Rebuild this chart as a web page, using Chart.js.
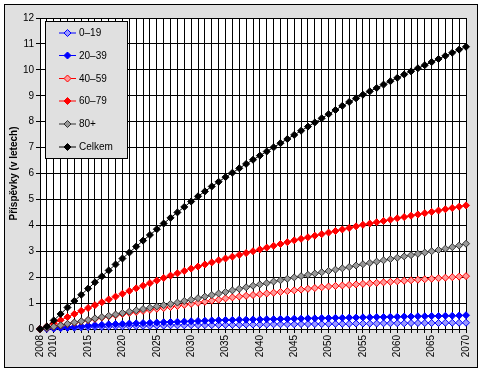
<!DOCTYPE html>
<html>
<head>
<meta charset="utf-8">
<script src="https://cdn.jsdelivr.net/npm/chart.js@4/dist/chart.umd.min.js"></script>
<style>
  html, body { margin: 0; padding: 0; background: #fff; }
  #wrap { width: 483px; height: 372px; }
</style>
</head>
<body>
<div id="wrap"><canvas id="chart" width="483" height="372"></canvas></div>
<script>
years = [
    '2008', '2009', '2010', '2011', '2012', '2013', '2014', '2015', '2016', '2017',
    '2018', '2019', '2020', '2021', '2022', '2023', '2024', '2025', '2026', '2027',
    '2028', '2029', '2030', '2031', '2032', '2033', '2034', '2035', '2036', '2037',
    '2038', '2039', '2040', '2041', '2042', '2043', '2044', '2045', '2046', '2047',
    '2048', '2049', '2050', '2051', '2052', '2053', '2054', '2055', '2056', '2057',
    '2058', '2059', '2060', '2061', '2062', '2063', '2064', '2065', '2066', '2067',
    '2068', '2069', '2070',
];
xTickLabels = ['2008', '2010', '2015', '2020', '2025', '2030', '2035', '2040',
    '2045', '2050', '2055', '2060', '2065', '2070'];
yTicks = [0, 1, 2, 3, 4, 5, 6, 7, 8, 9, 10, 11, 12];

seriesNames = ['0–19', '20–39', '40–59', '60–79', '80+', 'Celkem'];

age0_19 = [
    0, 0.01, 0.02, 0.03, 0.04, 0.05, 0.06, 0.07, 0.08, 0.08,
    0.09, 0.1, 0.1, 0.11, 0.11, 0.12, 0.12, 0.13, 0.13, 0.14,
    0.14, 0.14, 0.15, 0.15, 0.15, 0.15, 0.16, 0.16, 0.16, 0.16,
    0.17, 0.17, 0.17, 0.17, 0.18, 0.18, 0.18, 0.18, 0.19, 0.19,
    0.19, 0.19, 0.2, 0.2, 0.2, 0.2, 0.21, 0.21, 0.21, 0.21,
    0.22, 0.22, 0.22, 0.22, 0.23, 0.23, 0.23, 0.23, 0.23, 0.24,
    0.24, 0.24, 0.24,
];
age20_39 = [
    0, 0.01, 0.03, 0.05, 0.07, 0.09, 0.11, 0.13, 0.15, 0.16,
    0.18, 0.19, 0.2, 0.21, 0.22, 0.23, 0.24, 0.25, 0.26, 0.27,
    0.28, 0.29, 0.3, 0.31, 0.32, 0.33, 0.34, 0.35, 0.35, 0.36,
    0.36, 0.37, 0.37, 0.38, 0.38, 0.39, 0.39, 0.40, 0.40, 0.41,
    0.41, 0.42, 0.42, 0.43, 0.43, 0.44, 0.44, 0.45, 0.45, 0.46,
    0.46, 0.47, 0.47, 0.48, 0.48, 0.49, 0.49, 0.50, 0.50, 0.51,
    0.51, 0.52, 0.53,
];
age40_59 = [
    0, 0.04, 0.09, 0.14, 0.19, 0.24, 0.29, 0.34, 0.39, 0.44,
    0.49, 0.53, 0.58, 0.62, 0.66, 0.7, 0.74, 0.78, 0.81, 0.85,
    0.89, 0.93, 0.97, 1.01, 1.05, 1.09, 1.13, 1.18, 1.22, 1.25,
    1.28, 1.31, 1.34, 1.37, 1.40, 1.43, 1.46, 1.49, 1.52, 1.55,
    1.58, 1.61, 1.64, 1.66, 1.68, 1.70, 1.72, 1.74, 1.76, 1.78,
    1.80, 1.82, 1.84, 1.86, 1.88, 1.90, 1.92, 1.94, 1.96, 1.98,
    2.0, 2.02, 2.04,
];
age60_79 = [
    0, 0.1, 0.22, 0.34, 0.46, 0.58, 0.7, 0.81, 0.92, 1.03,
    1.14, 1.25, 1.36, 1.47, 1.57, 1.67, 1.77, 1.87, 1.97, 2.06,
    2.15, 2.24, 2.33, 2.41, 2.49, 2.57, 2.65, 2.72, 2.79, 2.86,
    2.93, 3.0, 3.07, 3.14, 3.21, 3.28, 3.35, 3.42, 3.48, 3.54,
    3.60, 3.66, 3.72, 3.78, 3.84, 3.90, 3.96, 4.02, 4.07, 4.12,
    4.17, 4.22, 4.27, 4.32, 4.37, 4.42, 4.47, 4.52, 4.57, 4.62,
    4.67, 4.72, 4.77,
];
age80plus = [
    0, 0.04, 0.09, 0.14, 0.2, 0.25, 0.3, 0.35, 0.41, 0.46,
    0.51, 0.56, 0.62, 0.67, 0.72, 0.77, 0.82, 0.87, 0.92, 0.97,
    1.02, 1.08, 1.13, 1.19, 1.25, 1.31, 1.37, 1.43, 1.49, 1.55,
    1.61, 1.67, 1.72, 1.77, 1.83, 1.88, 1.94, 1.99, 2.04, 2.09,
    2.14, 2.19, 2.24, 2.29, 2.34, 2.39, 2.45, 2.5, 2.55, 2.6,
    2.65, 2.7, 2.75, 2.8, 2.85, 2.9, 2.95, 3.0, 3.05, 3.1,
    3.16, 3.22, 3.29,
];
celkem = [
    0, 0.1, 0.33, 0.58, 0.83, 1.08, 1.32, 1.56, 1.80, 2.03,
    2.26, 2.49, 2.72, 2.95, 3.18, 3.41, 3.63, 3.85, 4.07, 4.29,
    4.50, 4.71, 4.92, 5.12, 5.31, 5.50, 5.68, 5.86, 6.03, 6.20,
    6.37, 6.53, 6.69, 6.85, 7.01, 7.17, 7.33, 7.49, 7.65, 7.81,
    7.97, 8.13, 8.29, 8.45, 8.61, 8.76, 8.90, 9.04, 9.17, 9.30,
    9.43, 9.56, 9.69, 9.82, 9.94, 10.06, 10.18, 10.30, 10.42, 10.54,
    10.66, 10.78, 10.89,
];

seriesData = [age0_19, age20_39, age40_59, age60_79, age80plus, celkem];
lineColors = ['#0000ff', '#0000ff', '#ff0000', '#ff0000', '#333333', '#000000'];
fillColors = ['#9999ff', '#0000ff', '#ff9999', '#ff0000', '#999999', '#000000'];

fontFamily = '"Liberation Sans", Arial, sans-serif';

// frame + white plot area
const backgroundPlugin = {
    id: 'background',
    beforeDraw(chart) {
        const c = chart.ctx;
        const a = chart.chartArea;
        c.save();
        c.fillStyle = '#ffffff';
        c.fillRect(0, 0, chart.width, chart.height);
        c.fillStyle = '#e0e0e0';
        c.fillRect(4.5, 4.5, 473, 363);
        c.strokeStyle = '#000000';
        c.lineWidth = 1;
        c.strokeRect(4.5, 4.5, 473, 363);
        c.fillStyle = '#ffffff';
        c.fillRect(a.left, a.top, a.right - a.left, a.bottom - a.top);
        c.restore();
    },
};

// legend box inside plot, top left
const boxLegendPlugin = {
    id: 'boxLegend',
    afterDatasetsDraw(chart) {
        const c = chart.ctx;
        const x0 = 45.5, y0 = 21.5, w = 82, h = 137;
        const rows = [33, 55.5, 78.5, 101, 124, 147];
        c.save();
        c.fillStyle = '#e0e0e0';
        c.fillRect(x0, y0, w, h);
        c.strokeStyle = '#000000';
        c.lineWidth = 1;
        c.strokeRect(x0, y0, w, h);
        chart.data.datasets.forEach((ds, i) => {
            const y = rows[i];
            c.strokeStyle = ds.borderColor;
            c.beginPath();
            c.moveTo(59, y);
            c.lineTo(76, y);
            c.stroke();
            c.fillStyle = ds.pointBackgroundColor;
            c.strokeStyle = ds.pointBorderColor;
            Chart.helpers.drawPoint(c, { pointStyle: 'rectRot', radius: 3.5, borderWidth: 1 }, 67.5, y);
            c.fillStyle = '#000000';
            c.font = '10px ' + fontFamily;
            c.textBaseline = 'middle';
            c.textAlign = 'left';
            c.fillText(ds.label, 79, y + 0.5);
        });
        c.restore();
    },
};

var ctx = document.getElementById('chart').getContext('2d');

new Chart(ctx, {
    type: 'line',
    data: {
        labels: years,
        datasets: seriesData.map((values, i) => ({
            label: seriesNames[i],
            data: values,
            borderColor: lineColors[i],
            borderWidth: 1,
            backgroundColor: fillColors[i],
            pointBackgroundColor: fillColors[i],
            pointBorderColor: lineColors[i],
            pointBorderWidth: 1,
            pointStyle: 'rectRot',
            pointRadius: 3.5,
            tension: 0,
            fill: false,
            clip: false,
            order: seriesData.length - i,
        })),
    },
    options: {
        responsive: false,
        animation: false,
        devicePixelRatio: 1,
        layout: {
            padding: { left: 0, top: 18, right: 17, bottom: 0 },
        },
        plugins: {
            legend: { display: false },
            tooltip: { enabled: false },
        },
        scales: {
            x: {
                offset: false,
                grid: {
                    color: '#000000',
                    lineWidth: 1,
                    offset: false,
                    tickLength: 4,
                },
                border: { color: '#000000' },
                ticks: {
                    autoSkip: false,
                    maxRotation: 90,
                    minRotation: 90,
                    padding: 2,
                    color: '#000000',
                    font: { family: fontFamily, size: 10 },
                    callback: function (value) {
                        const lbl = this.getLabelForValue(value);
                        return xTickLabels.includes(lbl) ? lbl : '';
                    },
                },
                afterFit(scale) {
                    scale.height = 43;
                },
            },
            y: {
                min: yTicks[0],
                max: yTicks[yTicks.length - 1],
                grid: {
                    color: '#000000',
                    lineWidth: 1,
                    tickLength: 4,
                },
                border: { color: '#000000' },
                ticks: {
                    stepSize: 1,
                    padding: 2,
                    color: '#000000',
                    font: { family: fontFamily, size: 10 },
                },
                title: {
                    display: true,
                    text: 'Příspěvky (v letech)',
                    color: '#000000',
                    font: { family: fontFamily, size: 10, weight: 'bold' },
                    padding: { top: 8, bottom: 0 },
                },
                afterFit(scale) {
                    scale.width = 40;
                },
            },
        },
    },
    plugins: [backgroundPlugin, boxLegendPlugin],
});
</script>
</body>
</html>
